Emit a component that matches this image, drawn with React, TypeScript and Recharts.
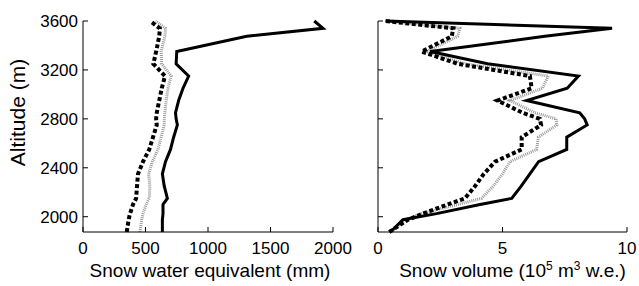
import { LineChart, Line, XAxis, YAxis } from "recharts";

// altitude bands (m), shared by both panels
const ALT = [1875, 1975, 2025, 2100, 2150, 2250, 2350, 2450, 2550, 2650, 2750, 2800, 2850, 2950, 3050, 3150, 3250, 3350, 3475, 3540, 3600];

// snow water equivalent (mm)
const SWE_SOLID = [635, 635, 640, 640, 675, 650, 635, 660, 700, 725, 755, 745, 740, 765, 800, 845, 745, 750, 1310, 1920, 1850];
const SWE_DASHED = [350, 365, 376, 400, 425, 432, 440, 480, 530, 560, 590, 585, 590, 610, 630, 656, 563, 585, 610, 615, 536];
const SWE_DOTTED = [455, 470, 480, 505, 530, 535, 525, 555, 600, 625, 650, 650, 655, 665, 680, 705, 630, 625, 655, 660, 580];

// snow volume (10^5 m3 w.e.)
const VOL_SOLID = [0.5, 1.0, 2.35, 4.1, 5.37, 5.75, 6.1, 6.45, 7.58, 7.58, 8.4, 8.3, 8.1, 5.97, 7.6, 8.05, 4.4, 2.1, 6.7, 9.4, 0.3];
const VOL_DASHED = [0.45, 1.2, 1.8, 2.8, 3.49, 3.9, 4.25, 4.7, 5.77, 5.77, 6.55, 6.5, 5.8, 4.8, 6.17, 6.1, 3.2, 1.75, 2.96, 3.03, 0.3];
const VOL_DOTTED = [0.5, 1.1, 1.75, 3.2, 4.16, 4.63, 5.0, 5.3, 6.37, 6.44, 7.18, 7.15, 6.3, 5.3, 6.6, 6.84, 3.5, 1.95, 3.2, 3.29, 0.3];

const ALT_TICKS = [2000, 2400, 2800, 3200, 3600];
const SWE_TICKS = [0, 500, 1000, 1500, 2000];
const VOL_TICKS = [0, 5, 10];

const sweData = ALT.map((alt, i) => ({ alt, solid: SWE_SOLID[i], dashed: SWE_DASHED[i], dotted: SWE_DOTTED[i] }));
const volData = ALT.map((alt, i) => ({ alt, solid: VOL_SOLID[i], dashed: VOL_DASHED[i], dotted: VOL_DOTTED[i] }));

const FONT = "'Liberation Sans', Arial, Helvetica, sans-serif";
const tickStyle = { fontSize: 17, fill: "#000", fontFamily: FONT };
const axisLine = { stroke: "#000", strokeWidth: 1 };

function Series() {
  return [
    <Line key="dt" dataKey="dotted" stroke="#999" strokeWidth={3} strokeDasharray="1 1" dot={false} isAnimationActive={false} />,
    <Line key="ds" dataKey="dashed" stroke="#000" strokeWidth={4} strokeDasharray="4 2.5" dot={false} isAnimationActive={false} />,
    <Line key="sl" dataKey="solid" stroke="#000" strokeWidth={3} dot={false} isAnimationActive={false} />,
  ];
}

export default function App() {
  return (
    <div style={{ position: "absolute", left: 0, top: 0, width: 639, height: 286, background: "#fff", fontFamily: FONT }}>
      <div style={{ position: "absolute", left: 0, top: 0 }}>
        <LineChart width={365} height={286} data={sweData} layout="vertical" margin={{ top: 21, right: 32, bottom: 0, left: 0 }}>
          <XAxis
            type="number"
            domain={[0, 2000]}
            ticks={SWE_TICKS}
            tickSize={-5}
            tickMargin={15}
            height={54}
            axisLine={axisLine}
            tickLine={axisLine}
            tick={tickStyle}
            label={({ viewBox }: any) => (
              <text x={viewBox.x + viewBox.width / 2 + 2} y={viewBox.y + 45} textAnchor="middle" fontSize={19} fontFamily={FONT} fill="#000">
                Snow water equivalent (mm)
              </text>
            )}
          />
          <YAxis
            type="number"
            dataKey="alt"
            domain={[1875, 3600]}
            reversed
            ticks={ALT_TICKS}
            tickSize={-5}
            tickMargin={10}
            width={83}
            axisLine={axisLine}
            tickLine={axisLine}
            tick={tickStyle}
            label={({ viewBox }: any) => (
              <text x={25} y={viewBox.y + viewBox.height / 2 - 14} transform={`rotate(-90 25 ${viewBox.y + viewBox.height / 2 - 14})`} textAnchor="middle" fontSize={21} fontFamily={FONT} fill="#000">
                Altitude (m)
              </text>
            )}
          />
          {Series()}
        </LineChart>
      </div>
      <div style={{ position: "absolute", left: 330, top: 0 }}>
        <LineChart width={309} height={286} data={volData} layout="vertical" margin={{ top: 21, right: 12, bottom: 0, left: 0 }}>
          <XAxis
            type="number"
            domain={[0, 10]}
            ticks={VOL_TICKS}
            tickSize={-5}
            tickMargin={15}
            height={54}
            axisLine={axisLine}
            tickLine={axisLine}
            tick={tickStyle}
            label={({ viewBox }: any) => (
              <text x={viewBox.x + viewBox.width / 2 + 10} y={viewBox.y + 45} textAnchor="middle" fontSize={19} fontFamily={FONT} fill="#000">
                <tspan>Snow volume (10</tspan>
                <tspan dy={-7} fontSize={12}>5</tspan>
                <tspan dy={7}> m</tspan>
                <tspan dy={-7} fontSize={12}>3</tspan>
                <tspan dy={7}> w.e.)</tspan>
              </text>
            )}
          />
          <YAxis
            type="number"
            dataKey="alt"
            domain={[1875, 3600]}
            reversed
            ticks={ALT_TICKS}
            tickSize={-5}
            width={48}
            axisLine={axisLine}
            tickLine={axisLine}
            tickFormatter={() => ""}
          />
          {Series()}
        </LineChart>
      </div>
    </div>
  );
}
